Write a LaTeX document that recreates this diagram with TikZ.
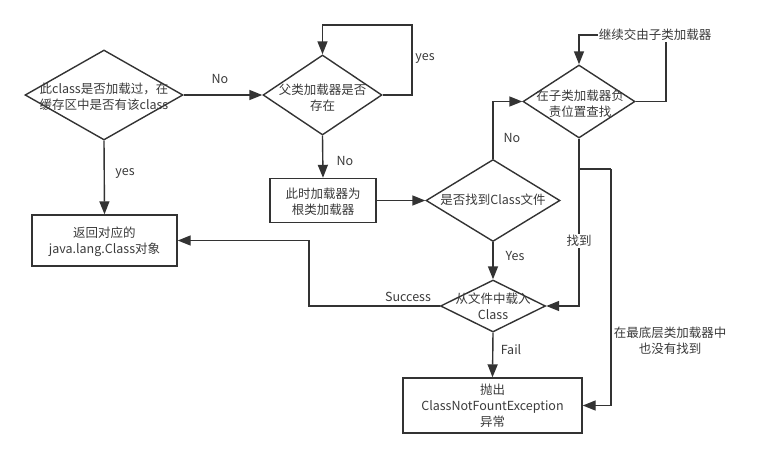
\documentclass[tikz,border=0pt]{standalone}
\usepackage{fontspec}
\setmainfont{Noto Sans CJK SC}
\usetikzlibrary{arrows.meta,shapes.geometric}
\definecolor{ln}{HTML}{333333}
\definecolor{tx}{HTML}{3A3A3A}
\tikzset{
  dia/.style={diamond, draw=ln, line width=1.4pt, inner sep=0pt, aspect=1},
  boxn/.style={rectangle, draw=ln, line width=1.4pt, inner sep=0pt},
  txt/.style={text=tx, align=center, font=\fontsize{12.5}{16}\selectfont, inner sep=1pt},
  lbl/.style={text=tx, align=center, font=\fontsize{12.5}{16}\selectfont, inner sep=1pt},
  wlbl/.style={lbl, fill=white},
  conn/.style={draw=ln, line width=1.4pt, -{Triangle[length=13pt,width=10pt]}},
  seg/.style={draw=ln, line width=1.4pt}
}
\begin{document}
\begin{tikzpicture}[x=1pt,y=-1pt]
\useasboundingbox (0,0) rectangle (766,458);
% shapes
\node[dia, minimum width=158pt, minimum height=90pt] (d1) at (104,95) {};
\node[txt] (t1) at (104,97) {此class是否加载过，在\\缓存区中是否有该class};
\node[dia, minimum width=119pt, minimum height=80pt] (d2) at (322.5,95) {};
\node[txt] (t2) at (322.5,98) {父类加载器是否\\存在};
\node[dia, minimum width=112pt, minimum height=73pt] (d3) at (579,101.5) {};
\node[txt] (t3) at (580,104) {在子类加载器负\\责位置查找};
\node[dia, minimum width=134pt, minimum height=82pt] (d4) at (493,200.5) {};
\node[txt] (t4) at (493,200) {是否找到Class文件};
\node[dia, minimum width=105pt, minimum height=52pt] (d5) at (493,306) {};
\node[txt] (t5) at (493,306) {从文件中载入\\Class};
\node[boxn, minimum width=106pt, minimum height=44pt] (rb) at (323,200.5) {};
\node[txt] (trb) at (323,202) {此时加载器为\\根类加载器};
\node[boxn, minimum width=145pt, minimum height=51pt] (ret) at (104.5,240.5) {};
\node[txt] (tret) at (104.5,242) {返回对应的\\java.lang.Class对象};
\node[boxn, minimum width=179pt, minimum height=55pt] (exc) at (492.5,405.5) {};
\node[txt] (texc) at (492.5,406) {抛出\\ClassNotFountException\\异常};
% bend coordinates
\coordinate (lp) at (412,25);
\coordinate (tp) at (666,35);
\coordinate (br) at (579,169);
\coordinate (b2) at (611,169);
\coordinate (sc) at (309,270);
% connectors
\draw[conn] (d1.east) -- (d2.west);
\node[lbl] (lno1) at (220,79) {No};
\draw[conn] (d1.south) -- (ret.north);
\node[lbl] (lyes1) at (125,173) {yes};
\draw[conn] (d2.east) -| (lp) -| (d2.north);
\node[lbl] (lyes2) at (425,58) {yes};
\draw[conn] (d2.south) -- (rb.north);
\node[lbl] (lno2) at (345,161) {No};
\draw[conn] (rb.east) -- (d4.west);
\draw[conn] (d4.north) |- (d3.west);
\node[lbl] (lno3) at (512,138) {No};
\draw[conn] (d3.east) -| (tp) -| (d3.north);
\node[wlbl] (lcont) at (655,35) {继续交由子类加载器};
\draw[conn] (d4.south) -- (d5.north);
\node[lbl] (lyes3) at (515,256) {Yes};
\draw[conn] (d3.south) |- (d5.east);
\node[wlbl] (lfound) at (579,241) {找到};
\draw[seg] (br) -- (b2);
\draw[conn] (b2) |- (exc.east);
\node[lbl] (lnf) at (670,341) {在最底层类加载器中\\也没有找到};
\draw[conn] (d5.west) -| (sc) |- (ret.east);
\node[lbl] (lsucc) at (408,297) {Success};
\draw[conn] (d5.south) -- (exc.north);
\node[lbl] (lfail) at (511,350) {Fail};
\end{tikzpicture}
\end{document}
